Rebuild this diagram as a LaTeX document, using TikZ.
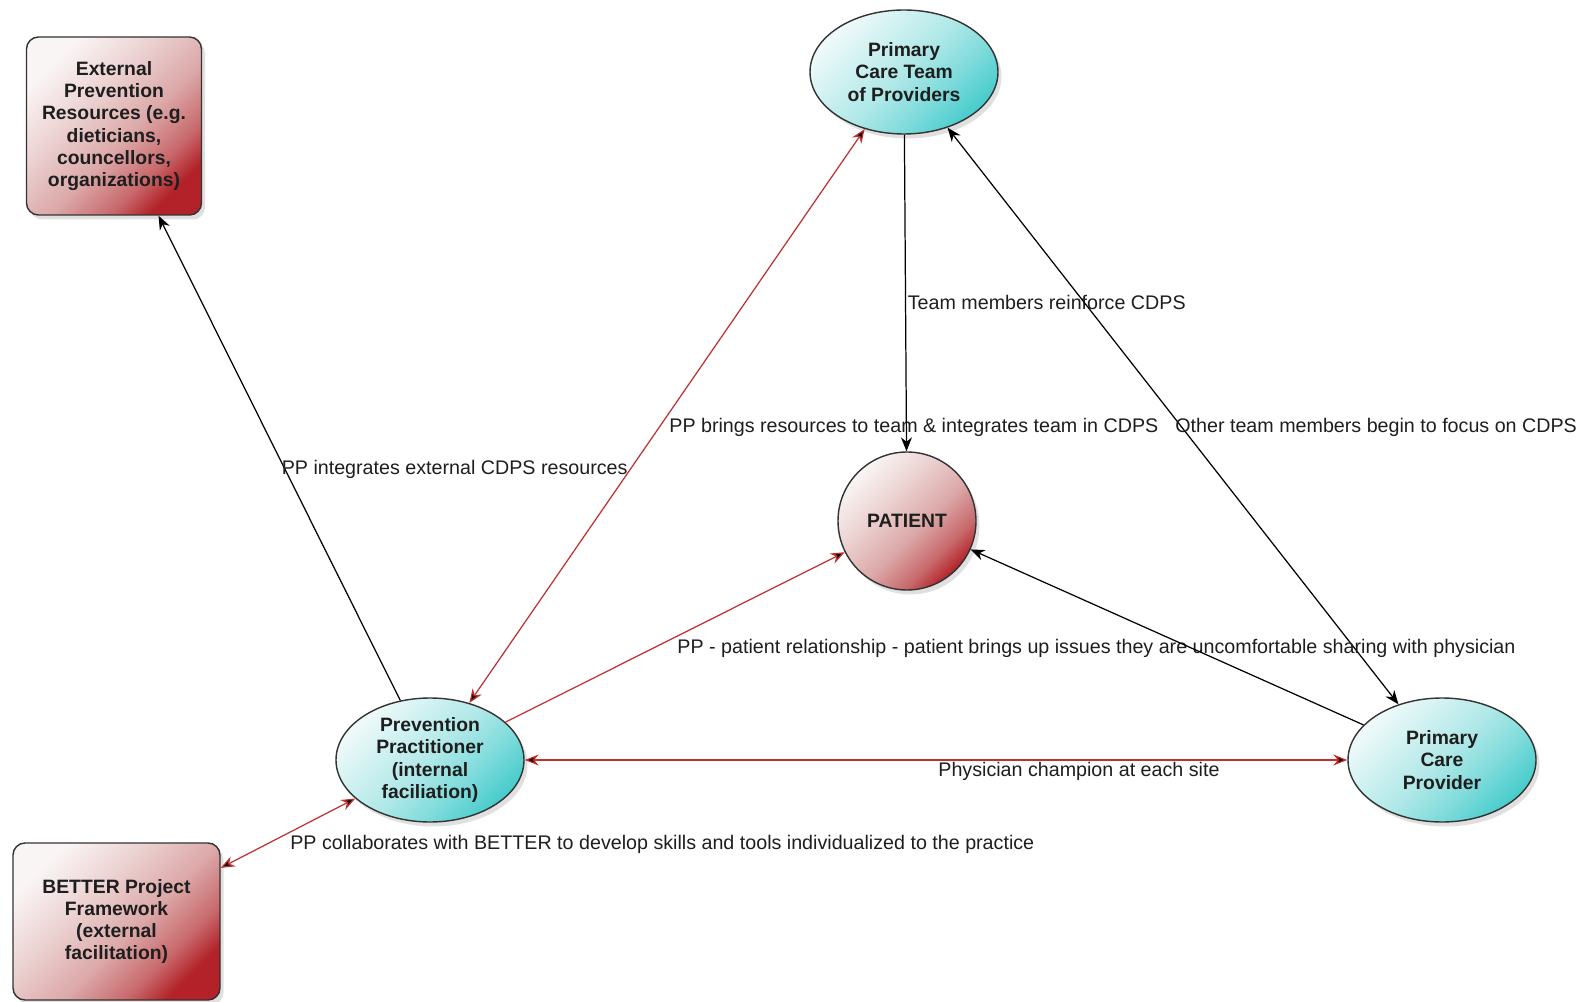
\documentclass[tikz,border=0pt]{standalone}
\usepackage{fontspec}
\setmainfont{Liberation Sans}
\usetikzlibrary{shapes}
\usetikzlibrary{positioning}
\usetikzlibrary{arrows.meta}
\usetikzlibrary{shadows}
\definecolor{edgered}{HTML}{C0302F}
\definecolor{txt}{HTML}{1E1E1E}
\pgfdeclareverticalshading{redfade}{100bp}{
    color(0bp)=(rgb,255:red,178;green,34;blue,40); color(25bp)=(rgb,255:red,178;green,34;blue,40);
    color(33bp)=(rgb,255:red,200;green,105;blue,108); color(45bp)=(rgb,255:red,220;green,168;blue,168);
    color(60bp)=(rgb,255:red,236;green,210;blue,210); color(75bp)=(rgb,255:red,250;green,245;blue,245);
    color(100bp)=(rgb,255:red,250;green,245;blue,245)}
\pgfdeclareverticalshading{cyanfade}{100bp}{
    color(0bp)=(rgb,255:red,72;green,204;blue,204); color(25bp)=(rgb,255:red,72;green,204;blue,204);
    color(38bp)=(rgb,255:red,130;green,220;blue,220); color(50bp)=(rgb,255:red,176;green,232;blue,232);
    color(75bp)=(rgb,255:red,240;green,250;blue,250); color(100bp)=(rgb,255:red,240;green,250;blue,250)}
\tikzset{
    >={Stealth[length=0.28cm,width=0.22cm]},
    nodefont/.style = {font=\fontsize{11}{12.6}\selectfont\bfseries,text=txt,align=center},
    softshadow/.style = {drop shadow={opacity=0.12,shadow xshift=0.07cm,shadow yshift=-0.09cm,fill=black}},
    mynodec/.style = {ellipse, draw=black!80, line width=0.8pt, nodefont, inner sep=0pt,
        minimum width=3.76cm, minimum height=2.48cm, softshadow,
        shading=cyanfade, shading angle=45},
    mynoder/.style = {rectangle, rounded corners=0.24cm, draw=black!80, line width=0.8pt, nodefont, inner sep=0pt,
        softshadow, shading=redfade, shading angle=45},
    mynodep/.style = {circle, draw=black!80, line width=0.8pt, nodefont, inner sep=0pt,
        minimum size=2.76cm, softshadow, shading=redfade, shading angle=45},
    edgen/.style = {draw=black, line width=0.7pt},
    edger/.style = {draw=edgered, line width=0.7pt},
    lbl/.style = {font=\fontsize{11.2}{13}\selectfont, text=txt, anchor=north west, inner sep=1pt, midway}
}

\begin{document}
\begin{tikzpicture}
\useasboundingbox (0,0) rectangle (31.66,20.02);

\node[mynoder, minimum width=3.50cm, minimum height=3.56cm] at ( 2.28, 17.50) (ext)
    {External\\Prevention\\Resources (e.g.\\dieticians,\\councellors,\\organizations)};
\node[mynodec] at (18.08, 18.58) (team) {Primary\\Care Team\\of Providers};
\node[mynodep] at (18.14,  9.60) (patient) {PATIENT};
\node[mynodec] at ( 8.60,  4.82) (pp) {Prevention\\Practitioner\\(internal\\faciliation)};
\node[mynodec] at (28.84,  4.82) (pcp) {Primary\\Care\\Provider};
\node[mynoder, minimum width=4.14cm, minimum height=3.14cm] at ( 2.33,  1.59) (better)
    {BETTER Project\\Framework\\(external\\facilitation)};

\draw[edgen, ->] (pp) edge node[lbl] {PP integrates external CDPS resources} (ext);
\draw[edger, <->] (pp) edge node[lbl] {PP brings resources to team \& integrates team in CDPS} (team);
\draw[edgen, ->] (team) edge node[lbl] {Team members reinforce CDPS} (patient);
\draw[edgen, <->] (team) edge node[lbl] {Other team members begin to focus on CDPS} (pcp);
\draw[edger, ->] (pp) edge node[lbl] {PP - patient relationship - patient brings up issues they are uncomfortable sharing with physician} (patient);
\draw[edgen, ->] (pcp) edge (patient);
\draw[edger, <->] (pp) edge node[lbl] {Physician champion at each site} (pcp);
\draw[edger, <->] (pp) edge node[lbl] {PP collaborates with BETTER to develop skills and tools individualized to the practice} (better);

\end{tikzpicture}
\end{document}
